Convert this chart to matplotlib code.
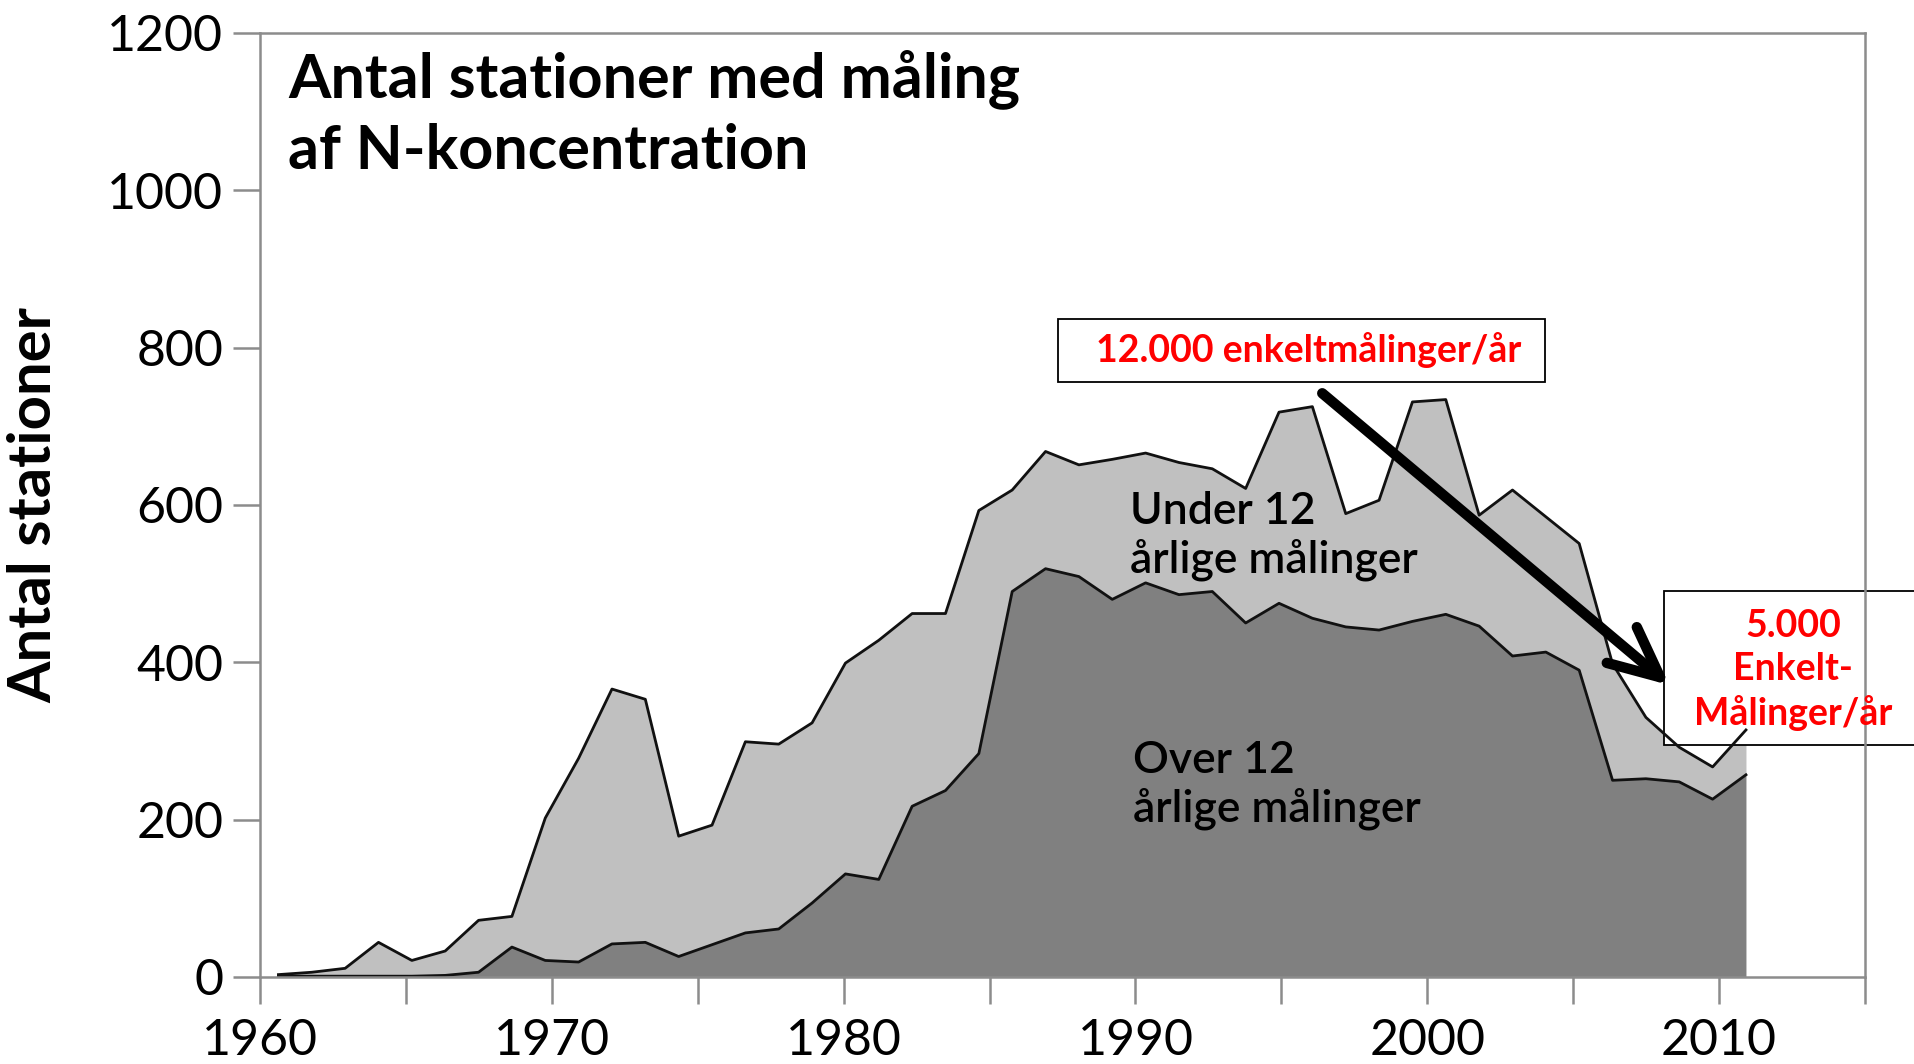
# Antal stationer med måling af N-koncentration

import numpy as np
import matplotlib.pyplot as plt
from matplotlib.patches import Rectangle
from matplotlib.ticker import MultipleLocator, FuncFormatter

plt.rcParams['font.family'] = ['Lato', 'DejaVu Sans']

# Data (45 points between 1960.6 and 2010.9)
n_points = 45
years = np.linspace(1960.63, 2010.92, n_points)

total_stations = [3, 6, 11, 44, 21, 33, 72, 77, 202, 278,
                  366, 353, 179, 193, 299, 296, 323, 399, 428, 462,
                  462, 593, 619, 668, 651, 658, 666, 654, 646, 621,
                  718, 725, 589, 606, 731, 734, 587, 619, 585, 551,
                  398, 330, 292, 267, 314]
over_12 = [1, 1, 1, 1, 1, 2, 6, 38, 21, 19,
           42, 44, 26, 41, 56, 61, 94, 131, 124, 217,
           237, 284, 490, 519, 509, 480, 501, 486, 490, 450,
           475, 456, 445, 441, 452, 461, 446, 408, 413, 390,
           250, 252, 248, 226, 257]

title = 'Antal stationer med måling\naf N-koncentration'
ylabel = 'Antal stationer'
label_under = 'Under 12\nårlige målinger'
label_over = 'Over 12\nårlige målinger'
note_before = '12.000 enkeltmålinger/år'
note_after = '5.000\nEnkelt-\nMålinger/år'

# Figure
fig = plt.figure(figsize=(19.15, 10.64), dpi=100)
ax = fig.add_axes([0.1358, 0.0818, 0.8381, 0.8872])

ax.fill_between(years, 0, over_12, color='#808080', lw=0)
ax.fill_between(years, over_12, total_stations, color='#c0c0c0', lw=0)
ax.plot(years, over_12, color='#111111', lw=2.0, zorder=2.3)
ax.plot(years, total_stations, color='#111111', lw=2.0, zorder=2.3)

ax.set_xlim(1960, 2015)
ax.set_ylim(0, 1200)

# Axes styling
for side in ['left', 'right', 'top', 'bottom']:
    ax.spines[side].set_color('#8c8c8c')
    ax.spines[side].set_linewidth(1.8)
ax.xaxis.set_major_locator(MultipleLocator(5))
ax.xaxis.set_major_formatter(FuncFormatter(lambda v, p: f'{v:.0f}' if v % 10 == 0 else ''))
ax.yaxis.set_major_locator(MultipleLocator(200))
ax.tick_params(axis='both', direction='out', length=19.5, width=1.8,
               color='#8c8c8c', labelcolor='black', labelsize=36)
ax.tick_params(axis='x', pad=10)
ax.tick_params(axis='y', pad=7)

ax.set_ylabel(ylabel, fontsize=43, fontweight='bold')
ax.yaxis.set_label_coords(-0.124, 0.5)

# Title inside the axes
ax.text(0.0174, 0.983, title, transform=ax.transAxes, ha='left', va='top',
        fontsize=44, fontweight='bold', linespacing=1.3)

# Area labels
ax.text(1989.8, 561, label_under, ha='left', va='center', fontsize=32,
        fontweight='semibold', linespacing=1.2)
ax.text(1989.9, 244, label_over, ha='left', va='center', fontsize=32,
        fontweight='semibold', linespacing=1.2)

# Annotation boxes
box1 = Rectangle((0.5525, 0.641), 0.2543, 0.0592, transform=fig.transFigure,
                 facecolor='white', edgecolor='black', lw=1.3, zorder=2.2, clip_on=False)
ax.add_patch(box1)
ax.text(0.6836, 0.671, note_before, transform=fig.transFigure, ha='center', va='center',
        color='#ff0000', fontsize=27, fontweight='bold', zorder=3)

box2 = Rectangle((0.8689, 0.2998), 0.2, 0.1447, transform=fig.transFigure,
                 facecolor='white', edgecolor='black', lw=1.3, zorder=2.2, clip_on=False)
ax.add_patch(box2)
ax.text(0.9363, 0.3703, note_after, transform=fig.transFigure, ha='center', va='center',
        color='#ff0000', fontsize=27, fontweight='bold', linespacing=1.3, zorder=3)

# Arrow from 12.000 down to 5.000
ax.annotate('', xy=(2008.3, 371), xytext=(1996.4, 742),
            arrowprops=dict(arrowstyle='->, head_length=0.9, head_width=0.42',
                            mutation_scale=40, lw=7.5, color='black',
                            shrinkA=0, shrinkB=0, capstyle='round'),
            zorder=4)

fig.savefig('out.png', dpi=100)
